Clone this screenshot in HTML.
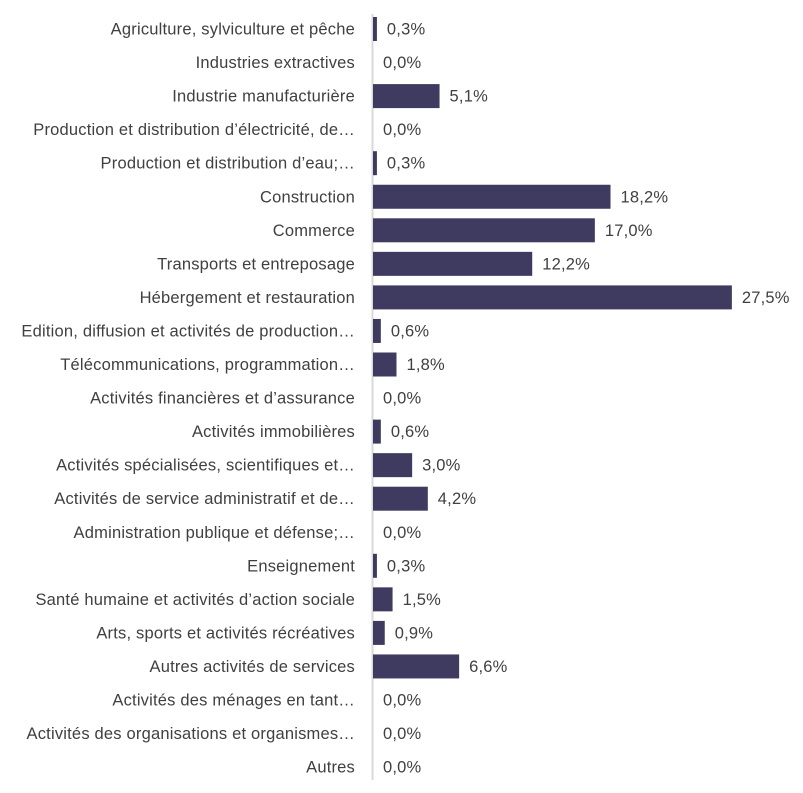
<!DOCTYPE html>
<html><head><meta charset="utf-8"><style>
body{margin:0;background:#fff;}
text{font-family:"Liberation Sans",sans-serif;font-size:16.5px;letter-spacing:0.2px;fill:#404040;}
</style></head><body>
<svg width="803" height="788" xmlns="http://www.w3.org/2000/svg">
<line x1="372.5" y1="14" x2="372.5" y2="780" stroke="#d9d9d9" stroke-width="2"/>
<g id="g"></g>
</svg>
<script>
const d=[["Agriculture, sylviculture et pêche",0.3],["Industries extractives",0],["Industrie manufacturière",5.1],["Production et distribution d’électricité, de…",0],["Production et distribution d’eau;…",0.3],["Construction",18.2],["Commerce",17.0],["Transports et entreposage",12.2],["Hébergement et restauration",27.5],["Edition, diffusion et activités de production…",0.6],["Télécommunications, programmation…",1.8],["Activités financières et d’assurance",0],["Activités immobilières",0.6],["Activités spécialisées, scientifiques et…",3.0],["Activités de service administratif et de…",4.2],["Administration publique et défense;…",0],["Enseignement",0.3],["Santé humaine et activités d’action sociale",1.5],["Arts, sports et activités récréatives",0.9],["Autres activités de services",6.6],["Activités des ménages en tant…",0],["Activités des organisations et organismes…",0],["Autres",0]];
let s="";
d.forEach((r,i)=>{const c=29+i*33.55;const w=r[1]*13.05;
s+=`<text x="355" y="${c+5.5}" text-anchor="end">${r[0]}</text>`;
if(w>0)s+=`<rect x="373" y="${c-12}" width="${w}" height="24" fill="#3f3a60"/>`;
s+=`<text x="${373+w+10}" y="${c+5.5}">${r[1].toFixed(1).replace('.',',')}%</text>`;});
document.getElementById('g').innerHTML=s;
</script>
</body></html>
